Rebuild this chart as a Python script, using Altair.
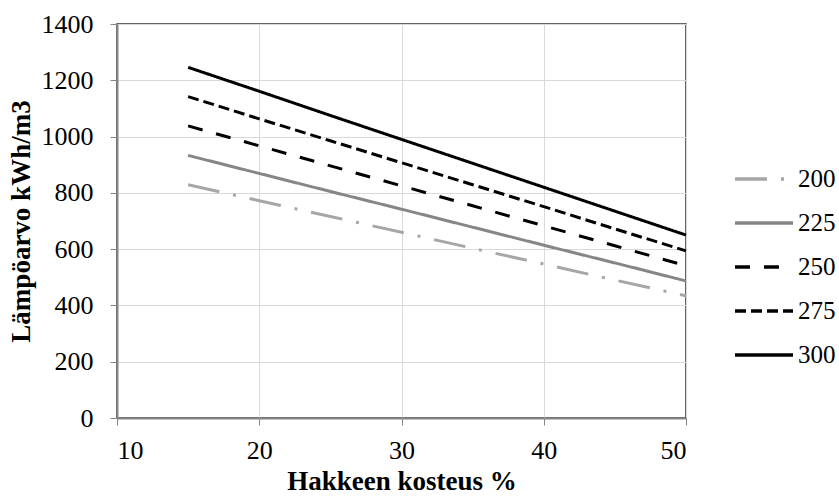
import altair as alt
import pandas as pd

moisture = [15, 20, 25, 30, 35, 40, 45, 50]
series = ["200", "225", "250", "275", "300"]
s200 = [829, 772, 716, 660, 603, 547, 490, 434]
s225 = [933, 869, 805, 742, 678, 614, 551, 487]
s250 = [1038, 967, 896, 825, 754, 683, 612, 541]
s275 = [1142, 1063, 985, 907, 829, 751, 672, 594]
s300 = [1246, 1161, 1075, 990, 905, 820, 735, 650]
x_ticks = [10, 20, 30, 40, 50]
y_ticks = [0, 200, 400, 600, 800, 1000, 1200, 1400]

rows = []
for name, vals in zip(series, [s200, s225, s250, s275, s300]):
    for m, v in zip(moisture, vals):
        rows.append({"moisture": m, "value": v, "series": name})
df = pd.DataFrame(rows)

FONT = "Liberation Serif"
colors = ["#a6a6a6", "#868686", "#000000", "#000000", "#000000"]
dashes = [[32, 14, 3, 14], [1, 0], [15, 14], [11, 5], [1, 0]]

legend = alt.Legend(
    title=None, orient="none", legendX=616, legendY=124,
    symbolType="stroke", symbolSize=3364, symbolStrokeWidth=3.5,
    labelFont=FONT, labelFontSize=25, labelColor="black", labelOffset=3,
    rowPadding=-19, padding=0,
)

chart = alt.Chart(df).mark_line(strokeWidth=3).encode(
    x=alt.X("moisture:Q",
            scale=alt.Scale(domain=[10, 50], nice=False, zero=False),
            axis=alt.Axis(values=x_ticks, title="Hakkeen kosteus %", format="d",
                          titlePadding=5, labelPadding=12)),
    y=alt.Y("value:Q",
            scale=alt.Scale(domain=[0, 1400], nice=False),
            axis=alt.Axis(values=y_ticks, title="Lämpöarvo kWh/m3", format="d",
                          titlePadding=6, labelPadding=17)),
    color=alt.Color("series:N", scale=alt.Scale(domain=series, range=colors), legend=legend),
    strokeDash=alt.StrokeDash("series:N", scale=alt.Scale(domain=series, range=dashes), legend=legend),
    order=alt.Order("moisture:Q"),
).properties(
    width=569, height=394,
    autosize=alt.AutoSizeParams(type="none"),
    padding={"left": 117, "top": 24, "right": 153, "bottom": 79},
).configure(
    font=FONT, background="white"
).configure_view(
    stroke="#333333", strokeWidth=1.5
).configure_axis(
    labelFont=FONT, labelFontSize=26, labelColor="black",
    titleFont=FONT, titleFontSize=27, titleFontWeight="bold", titleColor="black",
    gridColor="#d9d9d9", gridWidth=1,
    domainColor="#868686", domainWidth=2,
    tickColor="#868686", tickSize=7, tickWidth=1,
).configure_legend(
    labelFont=FONT, labelFontSize=25, labelColor="black"
)

chart.save("out.html", embed_options={"renderer": "svg", "actions": False})
